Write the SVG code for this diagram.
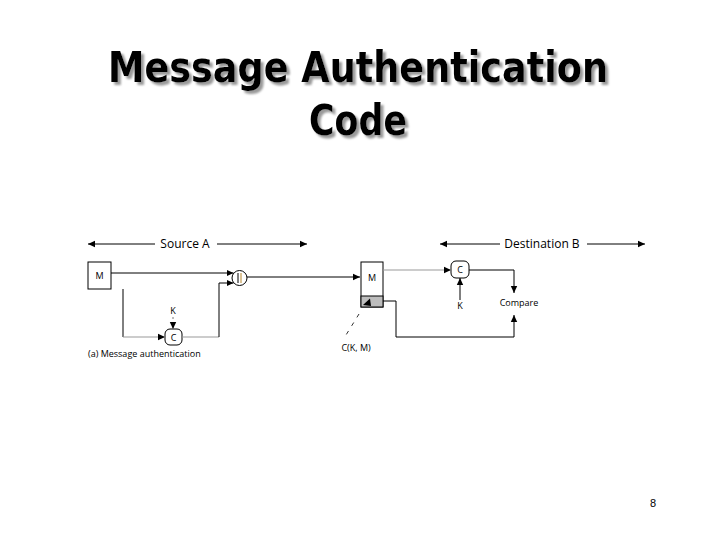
<svg xmlns="http://www.w3.org/2000/svg" width="720" height="540" viewBox="0 0 720 540">
<defs>
<marker id="ah" markerWidth="8" markerHeight="8" refX="7" refY="4" orient="auto" markerUnits="userSpaceOnUse">
<path d="M0,0.8 L7,4 L0,7.2 Z" fill="#000"/>
</marker>
<filter id="shadow" x="-5%" y="-20%" width="110%" height="150%">
<feDropShadow dx="3" dy="3" stdDeviation="0.8" flood-color="#9a9a9a" flood-opacity="1"/>
</filter>
<style>
.title{font-family:"Comic Sans MS","DejaVu Sans",sans-serif;font-weight:bold;font-size:42px;fill:#000;text-anchor:middle}
.lbl{font-family:"Open Sans","Noto Sans",sans-serif;fill:#000}
.big{font-size:12px}
.sm{font-size:9px}
.ln{fill:none;stroke:#000;stroke-width:1}
.lg{fill:none;stroke:#999;stroke-width:1}
.dash{fill:none;stroke:#777;stroke-width:1;stroke-dasharray:2,3}
.dash2{fill:none;stroke:#333;stroke-width:1;stroke-dasharray:4,6}
.box{fill:#fff;stroke:#000;stroke-width:1}
</style>
</defs>
<rect width="720" height="540" fill="#fff"/>

<g id="title" filter="url(#shadow)">
<text class="title" x="358" y="82" textLength="500" lengthAdjust="spacingAndGlyphs">Message  Authentication</text>
<text class="title" x="358" y="135" textLength="98" lengthAdjust="spacingAndGlyphs">Code</text>
</g>

<g id="scope-labels">
<line class="ln" x1="155" y1="244" x2="88" y2="244" marker-end="url(#ah)"/>
<text class="lbl big" x="185" y="248" text-anchor="middle">Source A</text>
<line class="ln" x1="217" y1="244" x2="307" y2="244" marker-end="url(#ah)"/>
<line class="ln" x1="500" y1="244" x2="440" y2="244" marker-end="url(#ah)"/>
<text class="lbl big" x="542" y="248" text-anchor="middle">Destination B</text>
<line class="ln" x1="587" y1="244" x2="645" y2="244" marker-end="url(#ah)"/>
</g>

<g id="src-M">
<rect class="box" x="88" y="262" width="23" height="27"/>
<text class="lbl sm" x="99.5" y="279" text-anchor="middle">M</text>
</g>

<g id="concat">
<circle class="box" cx="239.5" cy="278" r="7.5"/>
<line x1="238" y1="273" x2="238" y2="283" stroke="#000" stroke-width="1"/>
<line x1="241" y1="273" x2="241" y2="283" stroke="#b8862b" stroke-width="1"/>
</g>

<g id="src-C">
<rect class="box" x="165" y="329" width="17" height="16" rx="5"/>
<text class="lbl sm" x="173.5" y="340.5" text-anchor="middle">C</text>
</g>

<g id="src-K">
<text class="lbl sm" x="173" y="314" text-anchor="middle">K</text>
</g>

<g id="caption">
<text class="lbl sm" x="88" y="357">(a) Message authentication</text>
</g>

<g id="dst-M">
<rect class="box" x="361" y="262" width="22" height="45"/>
<rect x="361" y="296" width="22" height="11" fill="#bdbdbd" stroke="#000" stroke-width="1"/>
<text class="lbl sm" x="372" y="281" text-anchor="middle">M</text>
<path d="M363,305 L370,298.5 L371,306 Z" fill="#000"/>
</g>

<g id="ckm-label">
<text class="lbl sm" x="356" y="351" text-anchor="middle">C(K, M)</text>
</g>

<g id="dst-C">
<rect class="box" x="451" y="261" width="18" height="17" rx="5"/>
<text class="lbl sm" x="460" y="273" text-anchor="middle">C</text>
</g>

<g id="dst-K">
<text class="lbl sm" x="460" y="309" text-anchor="middle">K</text>
</g>

<g id="compare">
<text class="lbl sm" x="519" y="306" text-anchor="middle">Compare</text>
</g>

<g id="connectors">
<line class="ln" x1="111" y1="273" x2="233.5" y2="273" marker-end="url(#ah)"/>
<path class="ln" d="M123,289 V337"/>
<path class="lg" d="M123,337 H165" marker-end="url(#ah)"/>
<line class="dash" x1="173" y1="317" x2="173" y2="329" marker-end="url(#ah)"/>
<path class="lg" d="M182,337 H219"/>
<path class="ln" d="M219,337 V283 H233.5" marker-end="url(#ah)"/>
<line class="ln" x1="247" y1="277" x2="360" y2="277" marker-end="url(#ah)"/>
<path class="lg" d="M383,270 H451" marker-end="url(#ah)"/>
<line class="ln" x1="460" y1="300" x2="460" y2="278" marker-end="url(#ah)"/>
<path class="ln" d="M469,270 H514 V293" marker-end="url(#ah)"/>
<path class="ln" d="M383,301 H396 V337 H514 V315" marker-end="url(#ah)"/>
<line class="dash2" x1="359" y1="314" x2="346" y2="335"/>
</g>

<g id="page-number">
<text x="653" y="507" font-family="Liberation Sans, Arial, sans-serif" font-size="11" text-anchor="middle" fill="#000">8</text>
</g>
</svg>
